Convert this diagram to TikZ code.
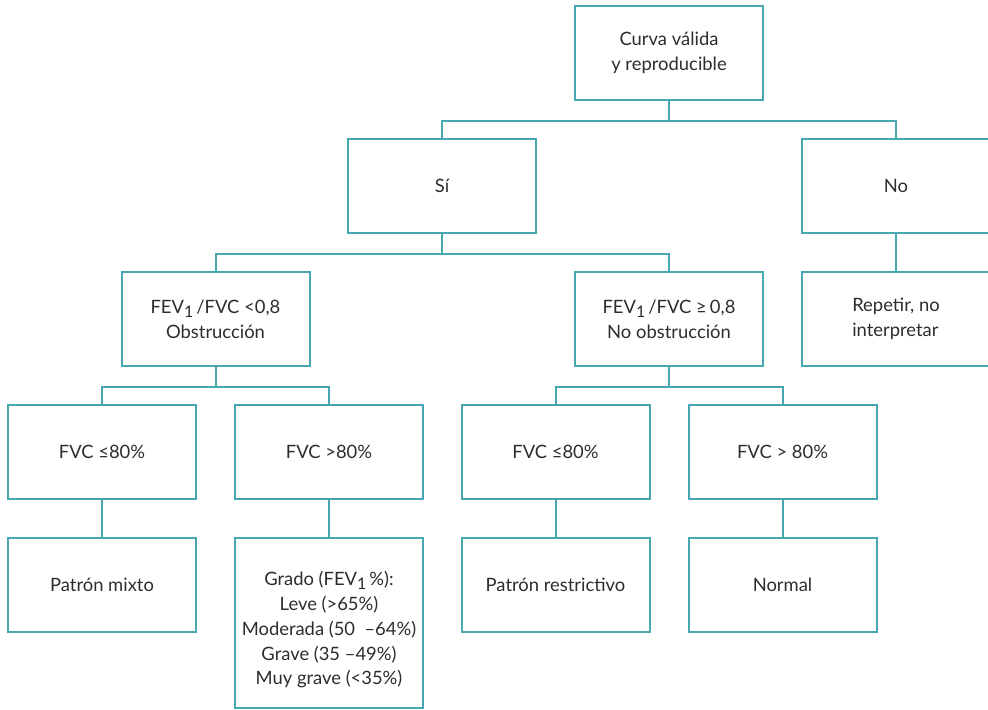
\documentclass[tikz,border=0pt]{standalone}
\usepackage{fontspec}
\setmainfont{Lato}
\usepackage{tikz}
\usetikzlibrary{positioning, calc}
\definecolor{tealline}{RGB}{72,168,178}
\definecolor{textgray}{RGB}{45,45,45}
\newcommand{\subone}{\raisebox{-0.45ex}{\footnotesize 1}}

\begin{document}
\begin{tikzpicture}[x=0.5pt, y=-0.5pt, line width=1pt,
  box/.style={draw=tealline, minimum width=94pt, minimum height=47pt, inner sep=0pt,
    align=center, text=textgray, font=\fontsize{9.2}{12.6}\selectfont},
  link/.style={draw=tealline}]
\useasboundingbox (0,0) rectangle (988,709);
% level 0 and 1
\node[box] (root) at (669,53) {Curva válida\\y reproducible};
\node[box] (si) at (442,186) {Sí};
\node[box] (no) at (896,186) {No};
% level 2
\node[box] (obs) at (215.5,319) {FEV\subone\,/FVC <0,8\\Obstrucción};
\node[box] (noobs) at (669,319) {FEV\subone\,/FVC ≥\,0,8\\ No obstrucción};
\node[box, align=left] (rep) at (896,319) {Repetir, no\\interpretar};
% level 3
\node[box] (fvca) at (102,452) {FVC ≤80\%};
\node[box] (fvcb) at (329,452) {FVC >80\%};
\node[box] (fvcc) at (555.5,452) {FVC ≤80\%};
\node[box] (fvcd) at (782.5,452) {FVC > 80\%};
% level 4
\node[box] (mixto) at (102,585) {Patrón mixto};
\node[box, minimum height=85pt, font=\fontsize{9.2}{12.4}\selectfont] (grado) at (329,623)
  {\rule{0pt}{14pt}Grado (FEV\subone\,\%):\\Leve (>65\%)\\Moderada (50\ \ \textendash64\%)\\Grave (35 \textendash49\%)\\Muy grave (<35\%)};
\node[box] (restr) at (555.5,585) {Patrón restrictivo};
\node[box] (normal) at (782.5,585) {Normal};
% branching connectors
\draw[link] (root.south) -- ++(0,19.5) coordinate (j0);
\draw[link] (si.north) |- (j0) -| (no.north);
\draw[link] (si.south) -- ++(0,19.5) coordinate (j1);
\draw[link] (obs.north) |- (j1) -| (noobs.north);
\draw[link] (obs.south) -- ++(0,19.5) coordinate (j2);
\draw[link] (fvca.north) |- (j2) -| (fvcb.north);
\draw[link] (noobs.south) -- ++(0,19.5) coordinate (j3);
\draw[link] (fvcc.north) |- (j3) -| (fvcd.north);
% straight connectors
\foreach \a/\b in {no/rep, fvca/mixto, fvcb/grado, fvcc/restr, fvcd/normal}{
  \draw[link] (\a.south) -- (\b.north);
}
\end{tikzpicture}
\end{document}
